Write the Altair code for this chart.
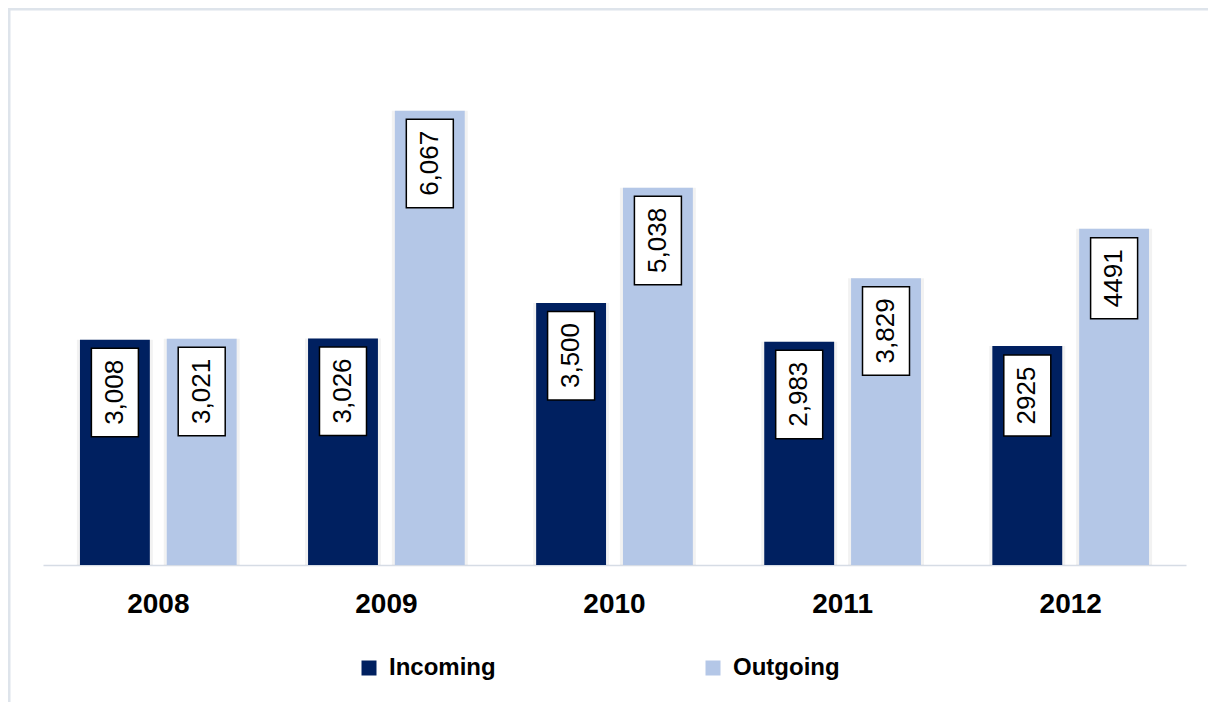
import altair as alt
import pandas as pd

years = ["2008", "2009", "2010", "2011", "2012"]
series_names = ["Incoming", "Outgoing"]
incoming = [3008, 3026, 3500, 2983, 2925]
outgoing = [3021, 6067, 5038, 3829, 4491]
incoming_labels = ["3,008", "3,026", "3,500", "2,983", "2925"]
outgoing_labels = ["3,021", "6,067", "5,038", "3,829", "4491"]
colors = ["#002060", "#b4c7e7"]

rows = []
for i, y in enumerate(years):
    rows.append({"year": y, "series": "Incoming", "value": incoming[i], "label": incoming_labels[i]})
    rows.append({"year": y, "series": "Outgoing", "value": outgoing[i], "label": outgoing_labels[i]})
df = pd.DataFrame(rows)

FONT = "Liberation Sans"
W, H = 1143, 524

x_enc = alt.X("year:N", sort=years, title=None,
              scale=alt.Scale(paddingInner=0.313, paddingOuter=0.162),
              axis=alt.Axis(labelAngle=0, labelFont=FONT, labelFontSize=28, labelFontWeight="bold",
                            labelColor="#000000", ticks=False, labelPadding=25,
                            domainColor="#d6dce5", domainWidth=1.5))
xo_enc = alt.XOffset("series:N", sort=series_names, scale=alt.Scale(paddingInner=0.195, paddingOuter=0))
y_scale = alt.Scale(domain=[0, 7000], nice=False)

base = alt.Chart(df)

shadow = base.mark_bar(color="#000000", opacity=0.05, width=76).encode(
    x=x_enc, xOffset=xo_enc,
    y=alt.Y("value:Q", scale=y_scale, axis=None),
)

bars = base.mark_bar().encode(
    x=x_enc, xOffset=xo_enc,
    y=alt.Y("value:Q", scale=y_scale, axis=None),
    color=alt.Color("series:N", sort=series_names,
                    scale=alt.Scale(domain=series_names, range=colors),
                    legend=alt.Legend(title=None, orient="none", legendX=314, legendY=615,
                                      direction="horizontal", columns=2, symbolType="square",
                                      symbolSize=225, symbolStrokeWidth=0, labelFont=FONT,
                                      labelFontSize=24, labelFontWeight="bold", labelColor="#000000",
                                      labelOffset=8, columnPadding=205, padding=0)),
)

comma = "test(/,/, datum.label)"
nocomma = "!test(/,/, datum.label)"

box1 = base.transform_filter(comma).mark_bar(
    width=47, fill="white", stroke="#000000", strokeWidth=1.5, yOffset=8.5, y2Offset=97
).encode(x=x_enc, xOffset=xo_enc, y=alt.Y("value:Q", scale=y_scale, axis=None), y2="value:Q")

box2 = base.transform_filter(nocomma).mark_bar(
    width=47, fill="white", stroke="#000000", strokeWidth=1.5, yOffset=9, y2Offset=90
).encode(x=x_enc, xOffset=xo_enc, y=alt.Y("value:Q", scale=y_scale, axis=None), y2="value:Q")

text1 = base.transform_filter(comma).mark_text(
    angle=270, align="center", baseline="middle", font=FONT, fontSize=26, color="#000000", yOffset=52.5
).encode(x=x_enc, xOffset=xo_enc, y=alt.Y("value:Q", scale=y_scale, axis=None), text="label:N")

text2 = base.transform_filter(nocomma).mark_text(
    angle=270, align="center", baseline="middle", font=FONT, fontSize=26, color="#000000", yOffset=49.5
).encode(x=x_enc, xOffset=xo_enc, y=alt.Y("value:Q", scale=y_scale, axis=None), text="label:N")

frame = alt.Chart(pd.DataFrame({"a": [0]})).mark_rect(
    fillOpacity=0, stroke="#dee4eb", strokeWidth=3
).encode(x=alt.value(-34), x2=alt.value(1300), y=alt.value(-32), y2=alt.value(800))

chart = alt.layer(frame, shadow, bars, box1, box2, text1, text2).properties(
    width=W, height=H,
    autosize=alt.AutoSizeParams(type="none"),
    padding={"left": 35, "top": 33, "right": 22, "bottom": 137},
).configure_view(stroke=None)

chart.save("out.html", embed_options={"renderer": "svg", "actions": False})
